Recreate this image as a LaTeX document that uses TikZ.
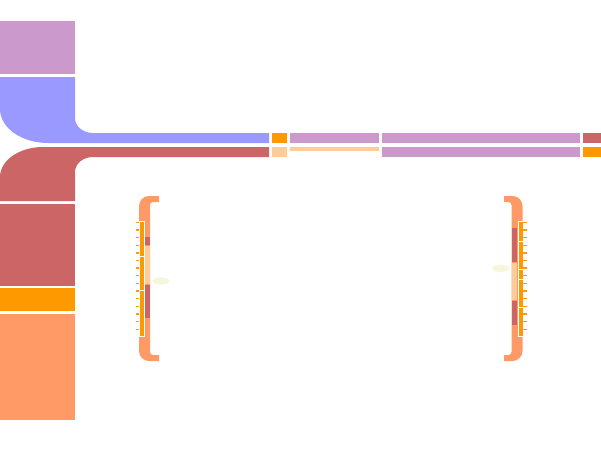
\documentclass[tikz,border=0pt]{standalone}
\definecolor{lcblue}{HTML}{9999FF}
\definecolor{lcpurple}{HTML}{CC99CC}
\definecolor{lcred}{HTML}{CC6666}
\definecolor{lcorange}{HTML}{FF9900}
\definecolor{lcsalmon}{HTML}{FF9966}
\definecolor{lcpeach}{HTML}{FFCC99}
\definecolor{lcglow}{HTML}{F5F7DC}
\tikzset{
  rulerseg/.style={fill=lcorange, draw=white, line width=0.9pt},
  rulertick/.style={draw=lcorange, line width=1.4pt},
}
\begin{document}
\begin{tikzpicture}[x=1pt, y=1pt]
  \fill[white] (0,0) rectangle (601,451);
  \useasboundingbox (0,0) rectangle (601,451);
  % left column
  \fill[lcpurple] (0,377) rectangle (75,430);
  \fill[lcblue] (0,374) -- (75,374) -- (75,333)
    arc[start angle=180, end angle=270, x radius=18, y radius=15]
    -- (269,318) -- (269,308) -- (48,308)
    arc[start angle=270, end angle=180, x radius=48, y radius=34] -- cycle;
  \fill[lcred] (0,250) -- (0,274)
    arc[start angle=180, end angle=90, x radius=43, y radius=30]
    -- (269,304) -- (269,294) -- (93,294)
    arc[start angle=90, end angle=180, x radius=18, y radius=15]
    -- (75,250) -- cycle;
  \fill[lcred] (0,165) rectangle (75,247);
  \fill[lcorange] (0,140) rectangle (75,163);
  \fill[lcsalmon] (0,31) rectangle (75,137);
  % top bars
  \fill[lcorange] (272,308) rectangle (287,318);
  \fill[lcpurple] (290,308) rectangle (379,318);
  \fill[lcpurple] (382,308) rectangle (580,318);
  \fill[lcred] (583,308) rectangle (601,318);
  \fill[lcpeach] (272,294) rectangle (287,304);
  \fill[lcpeach] (290,300) rectangle (379,304);
  \fill[lcpurple] (382,294) rectangle (580,304);
  \fill[lcorange] (583,294) rectangle (601,304);
  % left bracket
  \fill[lcsalmon] (159,255) -- (149,255) arc[start angle=90, end angle=180, radius=10]
    -- (139,100) arc[start angle=180, end angle=270, radius=10]
    -- (159,90) -- (159,96) -- (153,96) arc[start angle=270, end angle=180, radius=3]
    -- (150,246) arc[start angle=180, end angle=90, radius=3] -- (159,249) -- cycle;
  \fill[lcred] (145,206) rectangle (150,214);
  \fill[lcpeach] (145,167.3) rectangle (150,205);
  \fill[lcred] (145,133.3) rectangle (150,166);
  \foreach \a/\b in {229.3/195, 195/161, 161/114.5}
    \filldraw[rulerseg] (139,\a) rectangle (144,\b);
  \foreach \i in {0,...,14}
    \draw[rulertick] (135.5,228.7-7.64*\i) -- (139,228.7-7.64*\i);
  \fill[lcglow] (161,170) ellipse[x radius=8.5, y radius=3.6];
  % right bracket
  \fill[lcsalmon] (504,255) -- (512.5,255) arc[start angle=90, end angle=0, radius=10]
    -- (522.5,100) arc[start angle=0, end angle=-90, radius=10]
    -- (504,90) -- (504,96) -- (508.5,96) arc[start angle=-90, end angle=0, radius=3]
    -- (511.5,246) arc[start angle=0, end angle=90, radius=3] -- (504,249) -- cycle;
  \fill[lcred] (511.7,189.3) rectangle (517.3,222.7);
  \fill[lcpeach] (511.7,151) rectangle (517.3,188.3);
  \fill[lcred] (511.7,125.7) rectangle (517.3,150);
  \foreach \a/\b in {229.3/210, 210/182, 182/171.7, 171.7/143.7, 143.7/114.5}
    \filldraw[rulerseg] (518.5,\a) rectangle (523,\b);
  \foreach \i in {0,...,14}
    \draw[rulertick] (523,228.7-7.64*\i) -- (526.5,228.7-7.64*\i);
  \fill[lcglow] (500.7,182.7) ellipse[x radius=8.5, y radius=3.6];
\end{tikzpicture}
\end{document}
